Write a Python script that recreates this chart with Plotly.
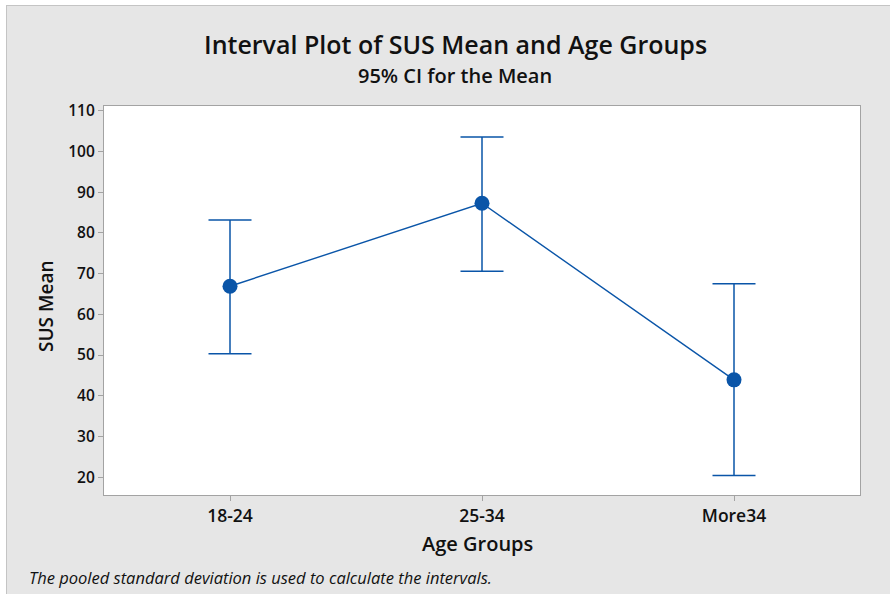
import plotly.graph_objects as go

categories = ["18-24", "25-34", "More34"]
means = [66.9, 87.3, 43.9]
upper = [83.2, 103.6, 67.5]
lower = [50.3, 70.6, 20.4]
y_ticks = [20, 30, 40, 50, 60, 70, 80, 90, 100, 110]

err_plus = [u - m for u, m in zip(upper, means)]
err_minus = [m - l for m, l in zip(means, lower)]

BLUE = "#0a55a8"
FONT = "Open Sans"
TXT = "#111111"

fig = go.Figure()
fig.add_trace(go.Scatter(
    x=[0, 1, 2], y=means, mode="lines+markers",
    line=dict(color=BLUE, width=1.4),
    marker=dict(color=BLUE, size=15),
    error_y=dict(type="data", symmetric=False, array=err_plus, arrayminus=err_minus,
                 color=BLUE, thickness=1.5, width=21.5),
    showlegend=False, hoverinfo="skip",
))

L, R, T, B = 104, 30, 106, 99
W, H = 890, 594
pw, ph = W - L - R, H - T - B

def px_x(px):
    return (px - L) / pw

def px_y(py):
    return (H - B - py) / ph

# white strips at top/left outside the grey frame, plus frame border
fig.add_shape(type="rect", xref="paper", yref="paper",
              x0=px_x(-2), x1=px_x(W + 2), y0=px_y(-2), y1=px_y(5),
              fillcolor="white", line=dict(width=0), layer="above")
fig.add_shape(type="rect", xref="paper", yref="paper",
              x0=px_x(-2), x1=px_x(6), y0=px_y(-2), y1=px_y(H + 2),
              fillcolor="white", line=dict(width=0), layer="above")
fig.add_shape(type="line", xref="paper", yref="paper",
              x0=px_x(6), x1=px_x(W + 2), y0=px_y(5.5), y1=px_y(5.5),
              line=dict(color="#c4c4c4", width=1), layer="above")
fig.add_shape(type="line", xref="paper", yref="paper",
              x0=px_x(6.5), x1=px_x(6.5), y0=px_y(5), y1=px_y(H + 2),
              line=dict(color="#c4c4c4", width=1), layer="above")

fig.update_layout(
    width=W, height=H,
    margin=dict(l=L, r=R, t=T, b=B),
    paper_bgcolor="#e6e6e6", plot_bgcolor="white",
    font=dict(family=FONT, color=TXT),
    xaxis=dict(range=[-0.5, 2.5], tickvals=[0, 1, 2], ticktext=categories,
               showgrid=False, zeroline=False, showline=True, mirror=True,
               linecolor="#a3a3a3", linewidth=1.2, ticks="outside", ticklen=5,
               tickcolor="#a3a3a3", tickfont=dict(size=17.5, family=FONT, weight=600, color=TXT)),
    yaxis=dict(range=[15.6, 111.2], tickvals=y_ticks,
               showgrid=False, zeroline=False, showline=True, mirror=True,
               linecolor="#a3a3a3", linewidth=1.2, ticks="outside", ticklen=5,
               tickcolor="#a3a3a3", tickfont=dict(size=15.5, family=FONT, weight=600, color=TXT)),
    annotations=[
        dict(text="Interval Plot of SUS Mean and Age Groups", xref="paper", yref="paper",
             x=px_x(455), y=px_y(44), xanchor="center", yanchor="middle", showarrow=False,
             font=dict(size=25, family=FONT, weight=600, color=TXT)),
        dict(text="95% CI for the Mean", xref="paper", yref="paper",
             x=px_x(455), y=px_y(75), xanchor="center", yanchor="middle", showarrow=False,
             font=dict(size=20, family=FONT, weight=600, color=TXT)),
        dict(text="Age Groups", xref="paper", yref="paper",
             x=px_x(477), y=px_y(543), xanchor="center", yanchor="middle", showarrow=False,
             font=dict(size=20, family=FONT, weight=600, color=TXT)),
        dict(text="SUS Mean", xref="paper", yref="paper", textangle=-90,
             x=px_x(46), y=px_y(307), xanchor="center", yanchor="middle", showarrow=False,
             font=dict(size=19, family=FONT, weight=600, color=TXT)),
        dict(text="<i>The pooled standard deviation is used to calculate the intervals.</i>",
             xref="paper", yref="paper", x=px_x(27), y=px_y(577), xanchor="left", yanchor="middle",
             showarrow=False, font=dict(size=16.5, family=FONT, color=TXT)),
    ],
)

fig.write_html("out.html", config={"displayModeBar": False},
               post_script="document.body.style.margin='0px';")
